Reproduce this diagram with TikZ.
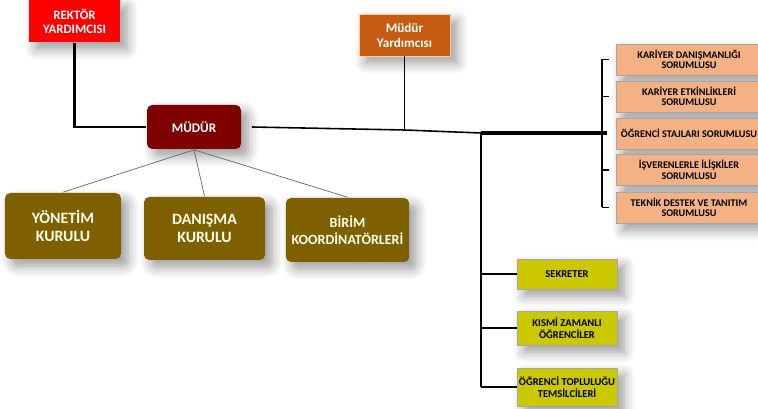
\documentclass[tikz,border=0pt]{standalone}
\usepackage{fontspec}
\setmainfont{Carlito}
\usetikzlibrary{shadows.blur}

\definecolor{rektorkirmizi}{HTML}{FF0000}
\definecolor{yrdturuncu}{HTML}{C55A11}
\definecolor{mudurbordo}{HTML}{7F0000}
\definecolor{kurulzeytin}{HTML}{7F6000}
\definecolor{sorumluseftali}{HTML}{F4B183}
\definecolor{personelsari}{HTML}{CCC800}

\tikzset{
	golge/.style={blur shadow={shadow xshift=.14cm, shadow yshift=-.14cm, shadow blur radius=.22cm, shadow blur steps=8, shadow opacity=40}},
	ustkutu/.style={golge, align=center, inner sep=1pt, minimum width=1.82cm, minimum height=.84cm, text=white, font=\fontsize{7.3}{7.8}\selectfont\bfseries},
	kurul/.style={golge, rounded corners=3pt, fill=kurulzeytin, align=center, text=white!92!yellow, minimum height=1.28cm, font=\fontsize{9}{10.5}\selectfont\bfseries},
	sorumlu/.style={golge, draw=gray!70, line width=.5pt, fill=sorumluseftali, align=center, inner sep=1pt, minimum width=2.92cm, minimum height=.62cm, font=\fontsize{5.8}{6}\selectfont\bfseries},
	personel/.style={golge, draw=gray!70, line width=.5pt, fill=personelsari, align=center, inner sep=1pt, minimum width=2cm, font=\fontsize{6}{7}\selectfont\bfseries},
	ince/.style={line width=.4pt, draw=gray!80!black}
}

\begin{document}
\begin{tikzpicture}[line width=.9pt]
	\useasboundingbox (0, 0) rectangle (15.16, -8.18);

	\node[ustkutu, fill=rektorkirmizi] (rektor) at (1.49, -0.42) {REKTÖR\\YARDIMCISI};
	\node[ustkutu, fill=yrdturuncu, draw=orange!40, line width=.4pt, font=\fontsize{7.5}{8.5}\selectfont\bfseries] (mudyrd) at (8.09, -0.70) {Müdür\\Yardımcısı};
	\node[ustkutu, fill=mudurbordo, rounded corners=3pt, minimum width=1.88cm, minimum height=.88cm, font=\fontsize{7.5}{8}\selectfont\bfseries] (mudur) at (3.88, -2.54) {MÜDÜR};

	\node[kurul, minimum width=2.32cm, minimum height=1.32cm] (yonetim) at (1.26, -4.52) {YÖNETİM\\KURULU};
	\node[kurul, minimum width=2.42cm, minimum height=1.26cm] (danisma) at (4.09, -4.57) {DANIŞMA\\KURULU};
	\node[kurul, minimum width=2.34cm, font=\fontsize{8}{10}\selectfont\bfseries] (birim) at (6.95, -4.60) {BİRİM\\KOORDİNATÖRLERİ};

	% Sorumlular
	\node[sorumlu] (kariyer) at (13.78, -1.19) {KARİYER DANIŞMANLIĞI\\SORUMLUSU};
	\node[sorumlu] (etkinlik) at (13.78, -1.93) {KARİYER ETKİNLİKLERİ\\SORUMLUSU};
	\node[sorumlu] (staj) at (13.78, -2.67) {ÖĞRENCİ STAJLARI SORUMLUSU};
	\node[sorumlu] (isveren) at (13.78, -3.40) {İŞVERENLERLE İLİŞKİLER\\SORUMLUSU};
	\node[sorumlu] (teknik) at (13.78, -4.15) {TEKNİK DESTEK VE TANITIM\\SORUMLUSU};

	% Personel
	\node[personel, minimum height=.60cm] (sekreter) at (11.34, -5.48) {SEKRETER};
	\node[personel, minimum height=.68cm] (kismi) at (11.34, -6.56) {KISMİ ZAMANLI\\ÖĞRENCİLER};
	\node[personel, minimum height=.76cm] (topluluk) at (11.34, -7.74) {ÖĞRENCİ TOPLULUĞU\\TEMSİLCİLERİ};

	\coordinate (yrdbag) at (8.09, -2.60);
	\coordinate (dugum) at (9.62, -2.66);
	\coordinate (ayrac) at (12.04, -2.66);

	\draw[line width=1.2pt] (rektor.south) -- (rektor |- mudur) -- (mudur.west); % Rektör yardımcısı - müdür
	\draw ([xshift=.2cm]mudur.east) -- (yrdbag) -- (dugum); % Ana hat
	\draw (mudyrd.south) -- (yrdbag);
	\draw[line width=1.8pt] (dugum) -- ([xshift=.1cm]ayrac);

	\draw[line width=.7pt] (kariyer.west -| ayrac) -- (teknik.west -| ayrac); % Ayraç
	\foreach \s in {kariyer, etkinlik, isveren, teknik}
		\draw[line width=.7pt] (\s.west -| ayrac) -- ([xshift=-.14cm]\s.west);

	\draw (dugum) -- (dugum |- topluluk); % Personel hattı
	\foreach \p in {sekreter, kismi, topluluk}
		\draw (dugum |- \p) -- (\p.west);

	\foreach \k in {yonetim, danisma, birim}
		\draw[ince] (mudur.south) -- (\k.north); % Kurullar
\end{tikzpicture}
\end{document}
